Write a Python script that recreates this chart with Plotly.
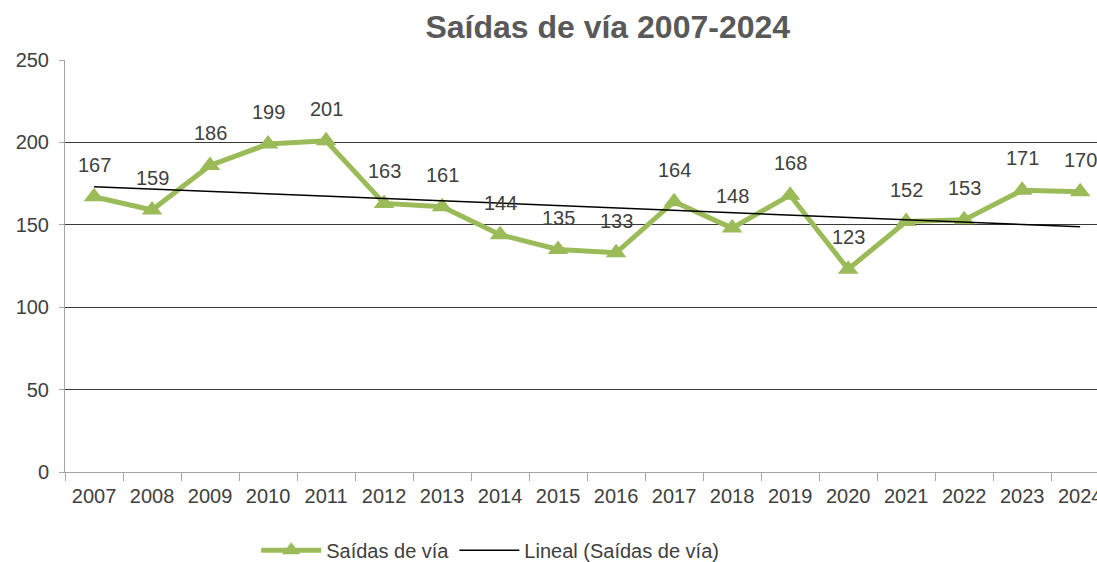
import numpy as np
import plotly.graph_objects as go

years = [str(y) for y in range(2007, 2025)]
salidas = [167, 159, 186, 199, 201, 163, 161, 144, 135, 133,
           164, 148, 168, 123, 152, 153, 171, 170]
y_ticks = [0, 50, 100, 150, 200, 250]

GREEN = '#9BBB59'
TXT = '#404040'

# linear trend, like the spreadsheet's "Lineal" trendline
idx = np.arange(len(salidas))
slope, icpt = np.polyfit(idx, salidas, 1)
trend = slope * idx + icpt

fig = go.Figure()
fig.add_trace(go.Scatter(
    x=years, y=salidas, name='Saídas de vía', mode='lines+markers',
    line=dict(color=GREEN, width=5),
    marker=dict(symbol='triangle-up', size=18, color=GREEN),
))
fig.add_trace(go.Scatter(
    x=years, y=trend, name='Lineal (Saídas de vía)', mode='lines',
    line=dict(color='black', width=1.5),
))

# data labels above the points (category index as x)
for i, v in enumerate(salidas):
    fig.add_annotation(x=i, y=v, text=str(v), showarrow=False,
                       yshift=32, font=dict(size=20, color=TXT))

fig.update_layout(
    width=1097, height=562,
    margin=dict(l=65, r=0, t=60, b=90, autoexpand=False),
    paper_bgcolor='white', plot_bgcolor='white',
    font=dict(family='Liberation Sans, Arial, sans-serif', color=TXT),
    title=dict(text='<b>Saídas de vía 2007-2024</b>', x=0.554, xanchor='center',
               y=0.952, yanchor='middle',
               font=dict(size=32, color='#595959')),
    legend=dict(orientation='h', x=0.412, xanchor='center', y=-0.19, yanchor='middle',
                font=dict(size=20, color=TXT), itemwidth=60, traceorder='normal'),
    xaxis=dict(
        type='category', range=[-0.5, 17.29], automargin=False,
        tickson='boundaries', ticks='outside', ticklen=8, tickcolor='#A6A6A6',
        showline=True, linecolor='#A6A6A6', linewidth=1,
        showgrid=False, tickfont=dict(size=20, color=TXT), ticklabelstandoff=6,
    ),
    yaxis=dict(
        range=[0, 250], tickvals=y_ticks, automargin=False,
        ticks='outside', ticklen=5, tickcolor='#A6A6A6',
        showline=True, linecolor='#A6A6A6', linewidth=1,
        showgrid=True, gridcolor='#3a3a3a', gridwidth=1,
        zeroline=False, tickfont=dict(size=20, color=TXT), ticklabelstandoff=6,
    ),
)

# drop the browser's default 8px body margin so the figure fills the window
fig.write_html("out.html", config={'displayModeBar': False},
               post_script="document.body.style.margin='0';")
